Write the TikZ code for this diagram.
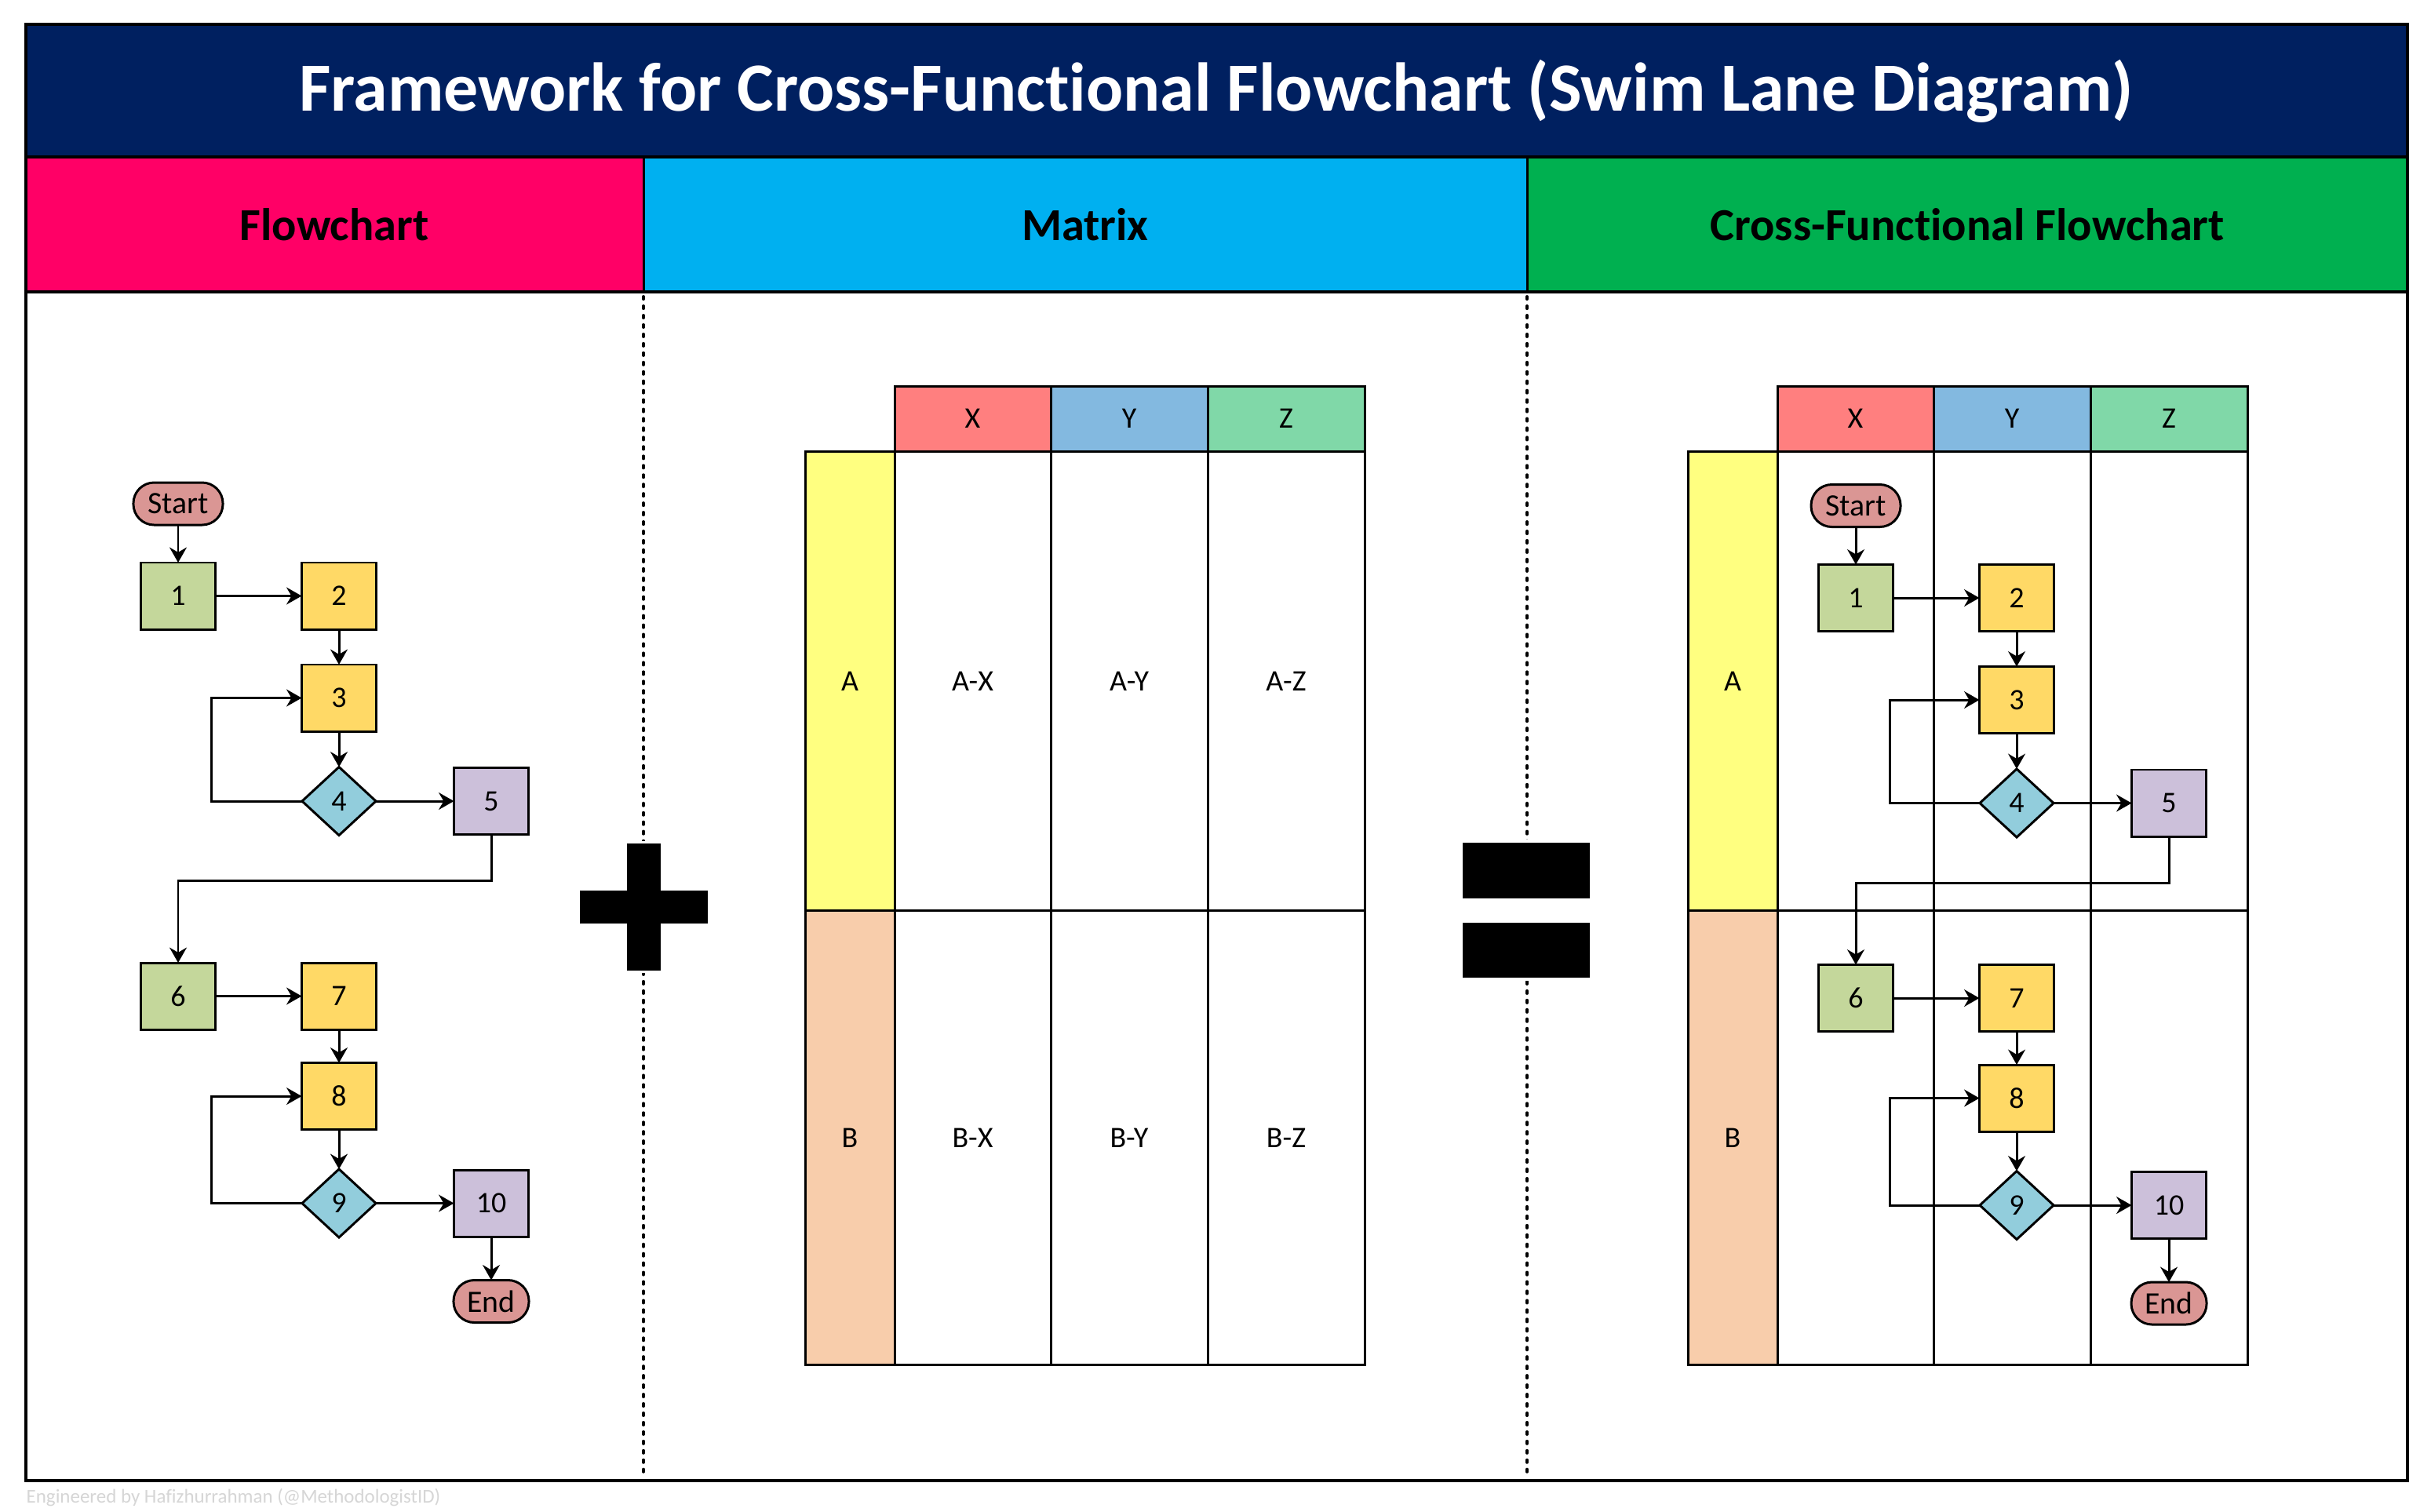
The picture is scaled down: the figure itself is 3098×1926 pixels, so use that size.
\documentclass[tikz,border=0pt]{standalone}
\usepackage{fontspec}
\setmainfont{Carlito}[Ligatures=NoCommon]
\usetikzlibrary{arrows.meta,shapes.geometric}

\definecolor{navy}{HTML}{002060}
\definecolor{hpink}{HTML}{FF0066}
\definecolor{hblue}{HTML}{00B0F0}
\definecolor{hgreen}{HTML}{00B050}
\definecolor{colX}{HTML}{FF7F7F}
\definecolor{colY}{HTML}{83B9E0}
\definecolor{colZ}{HTML}{80D8A8}
\definecolor{rowA}{HTML}{FFFF80}
\definecolor{rowB}{HTML}{F8CDAB}
\definecolor{fgreen}{HTML}{C4D79B}
\definecolor{fyellow}{HTML}{FFD966}
\definecolor{fblue}{HTML}{92CDDC}
\definecolor{fpurple}{HTML}{CCC0DA}
\definecolor{fred}{HTML}{DA9694}
\definecolor{creditgray}{HTML}{D6D6D6}

\tikzset{
  nodefont/.style={font=\fontsize{10.8}{12}\selectfont},
  procbox/.style={draw, line width=0.85pt, minimum width=0.95cm, minimum height=0.85cm,
    inner sep=0pt, outer sep=0pt, nodefont},
  greenbox/.style={procbox, fill=fgreen},
  yellowbox/.style={procbox, fill=fyellow},
  purplebox/.style={procbox, fill=fpurple},
  decision/.style={diamond, draw, fill=fblue, line width=0.85pt, minimum width=0.94cm,
    minimum height=0.87cm, inner sep=0pt, outer sep=0pt, nodefont},
  terminal/.style={draw, fill=fred, line width=0.85pt, rounded corners=0.265cm,
    minimum height=0.54cm, inner sep=0pt, outer sep=0pt, font=\fontsize{11.3}{12}\selectfont},
  arr/.style={-{Stealth[length=5.5pt,width=6.2pt]}, line width=0.85pt},
  gridline/.style={line width=0.85pt},
  lbl/.style={nodefont, inner sep=0pt},
  headtxt/.style={font=\bfseries\fontsize{16.6}{19}\selectfont, inner sep=0pt},
  sep/.style={line width=1.1pt, dash pattern=on 0.9pt off 2.5pt, line cap=round},
}

\newcommand\lanegrid[1]{%
  \fill[rowA] (1026,575) rectangle (1140,1160);
  \fill[rowB] (1026,1160) rectangle (1140,1739);
  \fill[colX] (1140,492) rectangle (1339,575);
  \fill[colY] (1339,492) rectangle (1539,575);
  \fill[colZ] (1539,492) rectangle (1739,575);
  \draw[gridline] (1140,492) rectangle (1739,1739);
  \draw[gridline] (1026,575) rectangle (1140,1739);
  \draw[gridline] (1026,575) -- (1739,575) (1026,1160) -- (1739,1160)
                  (1339,492) -- (1339,1739) (1539,492) -- (1539,1739);
  \node[lbl] (#1hx) at (1239.5,533.5) {X};
  \node[lbl] (#1hy) at (1439,533.5) {Y};
  \node[lbl] (#1hz) at (1639,533.5) {Z};
  \node[lbl] (#1ra) at (1083,868) {A};
  \node[lbl] (#1rb) at (1083,1450) {B};
}

\newcommand\flowsteps[1]{%
  \node[terminal, minimum width=1.14cm] (#1s) at (227,642) {Start};
  \node[greenbox] (#11) at (227,759.5) {1};
  \node[yellowbox] (#12) at (432,759.5) {2};
  \node[yellowbox] (#13) at (432,889.5) {3};
  \node[decision] (#14) at (432,1021) {4};
  \node[purplebox] (#15) at (626,1021) {5};
  \node[greenbox] (#16) at (227,1269.5) {6};
  \node[yellowbox] (#17) at (432,1269.5) {7};
  \node[yellowbox] (#18) at (432,1397) {8};
  \node[decision] (#19) at (432,1533.5) {9};
  \node[purplebox] (#110) at (626,1533.5) {10};
  \node[terminal, minimum width=0.96cm] (#1e) at (626,1658.5) {End};
  \draw[arr] (#1s) -- (#11);
  \draw[arr] (#11) -- (#12);
  \draw[arr] (#12) -- (#13);
  \draw[arr] (#13) -- (#14);
  \draw[arr] (#14.west) -- ++(-115,0) |- (#13.west);
  \draw[arr] (#14) -- (#15);
  \draw[arr] (#15.south) -- ++(0,59) -| (#16.north);
  \draw[arr] (#16) -- (#17);
  \draw[arr] (#17) -- (#18);
  \draw[arr] (#18) -- (#19);
  \draw[arr] (#19.west) -- ++(-115,0) |- (#18.west);
  \draw[arr] (#19) -- (#110);
  \draw[arr] (#110) -- (#1e);
}

\begin{document}
\begin{tikzpicture}[x=0.01cm, y=-0.01cm]
\useasboundingbox (0,0) rectangle (3098,1926);
\fill[white] (0,0) rectangle (3098,1926);

% title band and headers
\fill[navy] (33,31) rectangle (3068,200);
\fill[hpink] (33,200) rectangle (820,372);
\fill[hblue] (820,200) rectangle (1946,372);
\fill[hgreen] (1946,200) rectangle (3068,372);
\draw[line width=1pt] (33,200) -- (3068,200) (33,372) -- (3068,372);
\draw[line width=0.85pt] (820,200) -- (820,372) (1946,200) -- (1946,372);

\node[text=white, font=\bfseries\fontsize{25}{30}\selectfont, inner sep=0pt] (title)
  at (1550,116) {Framework for Cross-Functional Flowchart (Swim Lane Diagram)};
\node[headtxt] (hflow) at (426,286) {Flowchart};
\node[headtxt] (hmat) at (1383,286) {Matrix};
\node[headtxt] (hcff) at (2507,286) {Cross-Functional Flowchart};

% dashed separators
\draw[sep] (820,378) -- (820,1884);
\draw[sep] (1946,378) -- (1946,1884);

% plus sign
\fill[white] (739,1072) rectangle (902,1240);
\fill (799,1075) rectangle (842,1237);
\fill (739,1135) rectangle (902,1177);

% equals sign
\fill[white] (1864,1070) rectangle (2026,1250);
\fill (1864,1074) rectangle (2026,1145);
\fill (1864,1176) rectangle (2026,1246);

% matrix
\lanegrid{m}
\node[lbl] (mAX) at (1239.5,868) {A-X};
\node[lbl] (mAY) at (1439,868) {A-Y};
\node[lbl] (mAZ) at (1639,868) {A-Z};
\node[lbl] (mBX) at (1239.5,1450) {B-X};
\node[lbl] (mBY) at (1439,1450) {B-Y};
\node[lbl] (mBZ) at (1639,1450) {B-Z};

% cross-functional grid
\begin{scope}[shift={(1125,0)}]
\lanegrid{c}
\end{scope}

% flowcharts
\flowsteps{L}
\begin{scope}[shift={(2138,2.5)}]
\flowsteps{R}
\end{scope}

% outer frame
\draw[line width=1.2pt] (33,31) rectangle (3068,1887);

\node[anchor=west, text=creditgray, font=\fontsize{7.1}{9}\selectfont, inner sep=0pt] (credit)
  at (33,1908) {Engineered by Hafizhurrahman (@MethodologistID)};
\end{tikzpicture}
\end{document}
